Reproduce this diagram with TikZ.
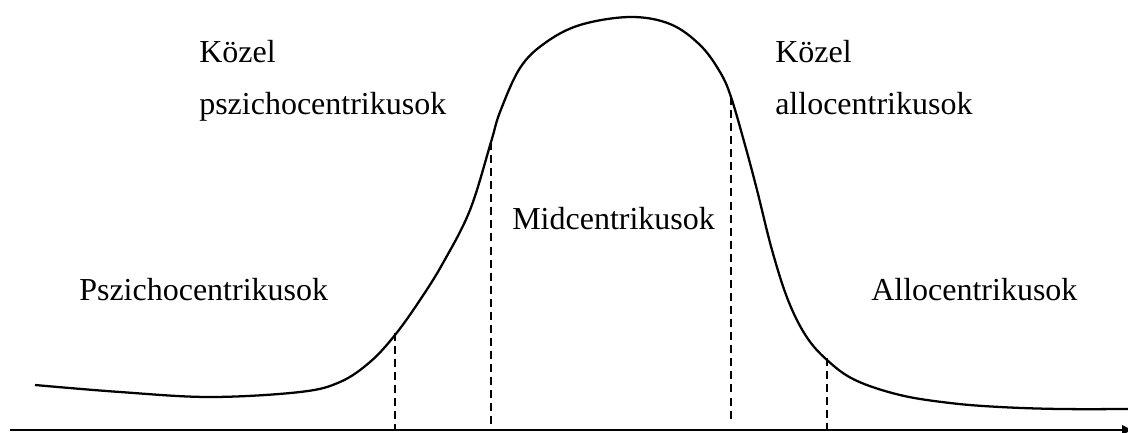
\documentclass[tikz,border=0pt]{standalone}
\usepackage{fontspec}
\setmainfont{Liberation Serif}
\usetikzlibrary{arrows.meta}
\begin{document}
\begin{tikzpicture}[x=0.75pt,y=-0.75pt,
  lbl/.style={anchor=base west,inner sep=0pt,font=\fontsize{24}{28}\selectfont},
  curve/.style={line width=1.7pt,line join=round},
  axis/.style={line width=1.6pt,-{Latex[length=9pt,width=8pt]}},
  guide/.style={line width=1.5pt,dash pattern=on 6pt off 3.8pt}]
\useasboundingbox (0,0) rectangle (1128,432);
% axis
\coordinate (a0) at (10,430);
\coordinate (a1) at (1134,430);
\draw[axis] (a0) -- (a1);
% curve
\draw[curve] plot[smooth,tension=0.6] coordinates {
 (35,385) (120,392) (210,397) (300,392) (340,382) (370,362) (395,335) (420,300)
 (443,263) (470,210) (491,142) (500,112) (520,68) (545,43) (580,25) (630,17)
 (670,24) (700,45) (720,72) (731,97) (745,145) (757,190) (772,250) (788,300)
 (806,336) (827,360) (855,380) (900,395) (950,403) (1000,407) (1060,409) (1128,409)};
% dashed guides
\coordinate (t1) at (395,333); \coordinate (b1) at (395,429);
\coordinate (t2) at (491,142); \coordinate (b2) at (491,429);
\coordinate (t3) at (731,97);  \coordinate (b3) at (731,423);
\coordinate (t4) at (827,358); \coordinate (b4) at (827,430);
\draw[guide] (t1) -- (b1);
\draw[guide] (t2) -- (b2);
\draw[guide] (t3) -- (b3);
\draw[guide] (t4) -- (b4);
% labels
\node[lbl] (kl) at (199,62) {Közel};
\node[lbl] (pl) at (199,114) {pszichocentrikusok};
\node[lbl] (kr) at (775,62) {Közel};
\node[lbl] (ar) at (775,114) {allocentrikusok};
\node[lbl] (ps) at (79,300) {Pszichocentrikusok};
\node[lbl] (mid) at (512,229) {Midcentrikusok};
\node[lbl] (al) at (871,300) {Allocentrikusok};
\end{tikzpicture}
\end{document}
